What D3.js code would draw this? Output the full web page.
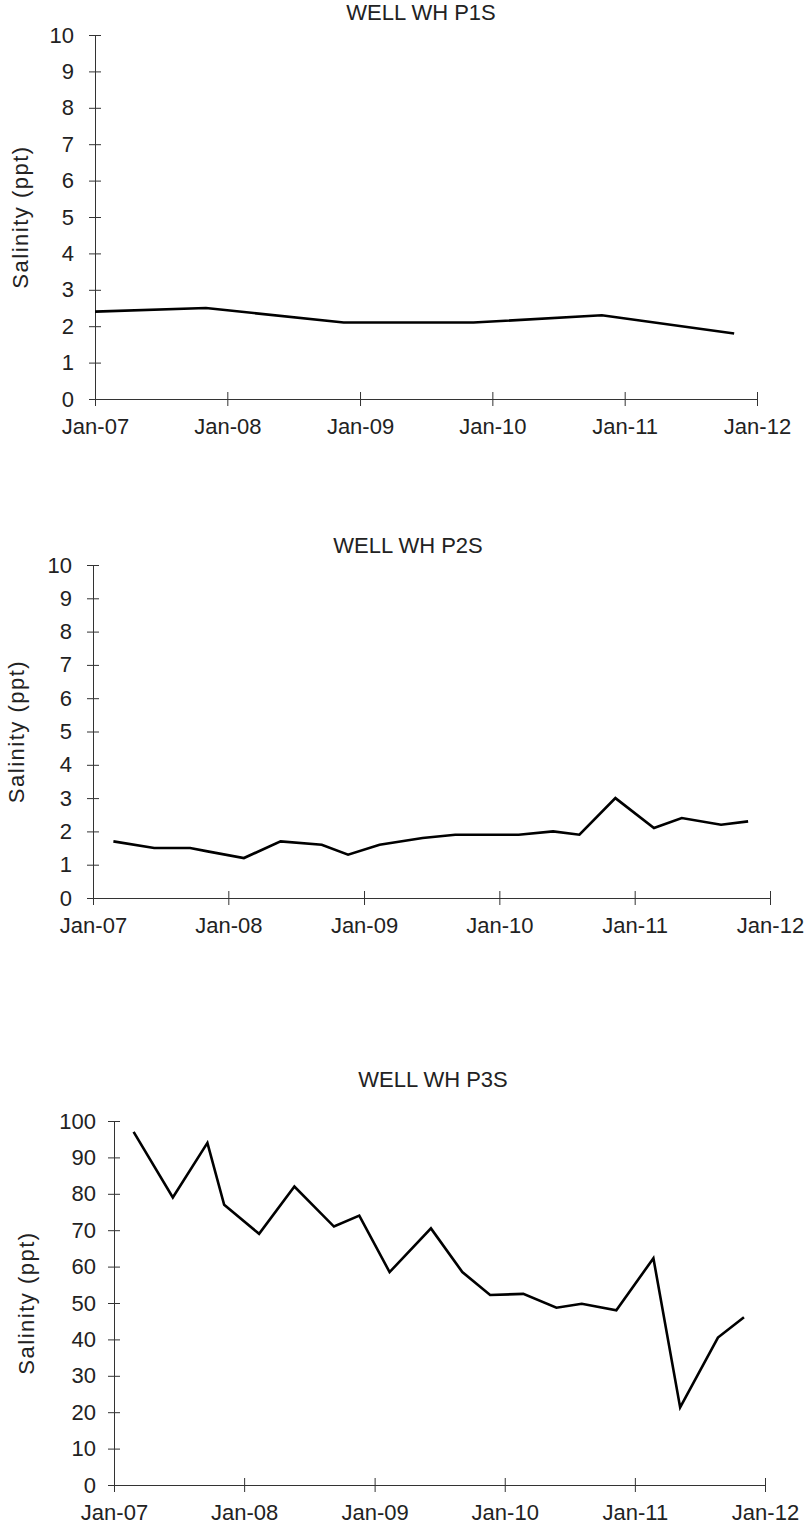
<!DOCTYPE html>
<html>
<head>
<meta charset="utf-8">
<script src="https://cdn.jsdelivr.net/npm/d3@7/dist/d3.min.js"></script>
<style>
  html, body { margin: 0; padding: 0; background: #fff; }
  svg { display: block; }
  text { font-family: "Liberation Sans", Arial, sans-serif; fill: #222; }
</style>
</head>
<body>
<svg id="chart" width="812" height="1529"></svg>
<script>
// Salinity monitoring, wells WH P1S, WH P2S and WH P3S
const titles = ["WELL WH P1S", "WELL WH P2S", "WELL WH P3S"];
const yAxisTitle = "Salinity (ppt)";
const xTickLabels = ["Jan-07", "Jan-08", "Jan-09", "Jan-10", "Jan-11", "Jan-12"];
const xTickDates = ["2007-01-01", "2008-01-01", "2009-01-01", "2010-01-01", "2011-01-01", "2012-01-01"];

// WH P1S: annual samples
const p1Dates = ["2007-01-01", "2007-11-03", "2008-11-17", "2009-11-10", "2010-10-30", "2011-10-30"];
const p1Values = [2.4, 2.5, 2.1, 2.1, 2.3, 1.8];

// WH P2S and WH P3S: quarterly samples
const quarterlyDates = [
  "2007-02-25", "2007-06-15", "2007-09-20", "2007-11-06",
  "2008-02-12", "2008-05-21", "2008-09-09", "2008-11-19",
  "2009-02-12", "2009-06-08", "2009-09-04", "2009-11-21",
  "2010-02-22", "2010-05-26", "2010-08-05", "2010-11-10",
  "2011-02-22", "2011-05-08", "2011-08-22", "2011-11-03"
];
const p2Values = [1.7, 1.5, 1.5, 1.4, 1.2, 1.7, 1.6, 1.3, 1.6, 1.8, 1.9, 1.9,
                  1.9, 2.0, 1.9, 3.0, 2.1, 2.4, 2.2, 2.3];
const p3Values = [97, 79, 94, 77, 69, 82, 71, 74, 58.5, 70.5, 58.5, 52.2,
                  52.5, 48.7, 49.8, 48.0, 62.3, 21.3, 40.5, 46.1];

const p1Ticks = [0, 1, 2, 3, 4, 5, 6, 7, 8, 9, 10];
const p2Ticks = [0, 1, 2, 3, 4, 5, 6, 7, 8, 9, 10];
const p3Ticks = [0, 10, 20, 30, 40, 50, 60, 70, 80, 90, 100];

const parse = d3.timeParse("%Y-%m-%d");
const svg = d3.select("#chart");
const fontSize = "22px";

const panels = [
  { title: titles[0], dates: p1Dates, values: p1Values, ticks: p1Ticks,
    left: 95, right: 757, top: 35, bottom: 399, titleX: 421, titleY: 20, labelX: 20, yPad: 15 },
  { title: titles[1], dates: quarterlyDates, values: p2Values, ticks: p2Ticks,
    left: 93, right: 770, top: 565, bottom: 898, titleX: 408, titleY: 553, labelX: 16, yPad: 15 },
  { title: titles[2], dates: quarterlyDates, values: p3Values, ticks: p3Ticks,
    left: 114, right: 765, top: 1121, bottom: 1485, titleX: 433, titleY: 1087, labelX: 26, yPad: 12 }
];

panels.forEach(p => {
  const x = d3.scaleTime()
    .domain([parse(xTickDates[0]), parse(xTickDates[xTickDates.length - 1])])
    .range([p.left, p.right]);
  const y = d3.scaleLinear()
    .domain([p.ticks[0], p.ticks[p.ticks.length - 1]])
    .range([p.bottom, p.top]);

  const g = svg.append("g");

  // title
  g.append("text")
    .attr("x", p.titleX).attr("y", p.titleY)
    .attr("text-anchor", "middle")
    .style("font-size", fontSize)
    .text(p.title);

  // y axis with cross ticks
  const yAxis = g.append("g")
    .attr("transform", `translate(${p.left},0)`)
    .call(d3.axisLeft(y).tickValues(p.ticks).tickSize(6).tickPadding(p.yPad).tickSizeOuter(0));
  yAxis.selectAll(".tick line").attr("x1", 6).attr("x2", -6);
  yAxis.selectAll("text").style("font-size", fontSize).attr("fill", "#222");

  // x axis with cross ticks
  const xAxis = g.append("g")
    .attr("transform", `translate(0,${p.bottom})`)
    .call(d3.axisBottom(x)
      .tickValues(xTickDates.map(parse))
      .tickFormat((d, i) => xTickLabels[i])
      .tickSize(6).tickPadding(13).tickSizeOuter(0));
  xAxis.selectAll(".tick line").attr("y1", -7).attr("y2", 7);
  xAxis.selectAll("text").style("font-size", fontSize).attr("fill", "#222");

  svg.selectAll(".domain").attr("stroke", "#333");
  svg.selectAll(".tick line").attr("stroke", "#333");

  // y axis title
  g.append("text")
    .attr("transform", `translate(${p.labelX},${(p.top + p.bottom) / 2}) rotate(-90)`)
    .attr("text-anchor", "middle")
    .attr("dy", "0.35em")
    .style("font-size", fontSize)
    .style("letter-spacing", "1.5px")
    .text(yAxisTitle);

  // salinity line
  const pts = p.dates.map((d, i) => ({ date: parse(d), value: p.values[i] }));
  g.append("path")
    .datum(pts)
    .attr("fill", "none")
    .attr("stroke", "#000")
    .attr("stroke-width", 2.6)
    .attr("stroke-linejoin", "miter")
    .attr("d", d3.line().x(d => x(d.date)).y(d => y(d.value)));
});
</script>
</body>
</html>
